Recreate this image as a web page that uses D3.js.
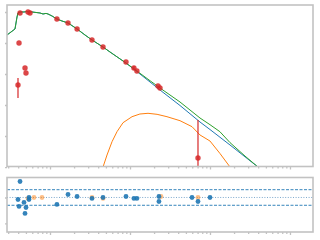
<!DOCTYPE html>
<html>
<head>
<meta charset="utf-8">
<script src="https://cdn.jsdelivr.net/npm/d3@7"></script>
<style>
  html, body { margin: 0; padding: 0; background: #fff; }
  svg { display: block; }
</style>
</head>
<body>
<div id="chart"></div>
<script>
// observed photometry (red points with errors)
var obsWave = [0.0398, 0.0410, 0.0422, 0.0487, 0.0501, 0.0531, 0.0562, 0.122, 0.168, 0.218, 0.335, 0.460, 0.891, 1.12, 1.22, 2.24, 2.37, 7.08];
var obsFlux = [0.00442, 0.100, 0.928, 0.0156, 0.0108, 1.00, 0.928, 0.594, 0.442, 0.283, 0.125, 0.0743, 0.0244, 0.0156, 0.0125, 0.00410, 0.00353, 1.95e-5];
var obsLo   = [0.00168, 0.100, 0.928, 0.0156, 0.0108, 1.00, 0.928, 0.594, 0.442, 0.283, 0.125, 0.0743, 0.0244, 0.0135, 0.0125, 0.00410, 0.00353, 1e-6];
var obsHi   = [0.00743, 0.100, 0.928, 0.0156, 0.0108, 1.00, 0.928, 0.594, 0.442, 0.283, 0.125, 0.0743, 0.0244, 0.0181, 0.0125, 0.00410, 0.00353, 0.000328];

// total model (green)
var totWave = [0.0290, 0.0365, 0.0387, 0.0398, 0.0422, 0.0473, 0.0531, 0.0596, 0.0668, 0.0750, 0.0818, 0.0891, 0.0944, 0.106, 0.122, 0.141, 0.168, 0.218, 0.274, 0.335, 0.460, 0.562, 0.891, 1.22, 1.78, 2.51, 4.22, 7.50, 10.0, 13.3, 17.8, 27.4, 39.8];
var totFlux = [0.181, 0.283, 0.690, 0.928, 1.00, 1.00, 1.04, 1.00, 0.964, 0.928, 0.862, 0.900, 0.862, 0.743, 0.594, 0.513, 0.442, 0.283, 0.181, 0.125, 0.0743, 0.0513, 0.0226, 0.0125, 0.00608, 0.00319, 0.00125, 0.000381, 0.000232, 0.000138, 6.12e-5, 2.26e-5, 1.0e-5];

// stellar model (blue)
var starWave = [0.0290, 0.0365, 0.0387, 0.0398, 0.0422, 0.0473, 0.0531, 0.0596, 0.0668, 0.0750, 0.0818, 0.0891, 0.0944, 0.106, 0.122, 0.141, 0.168, 0.218, 0.274, 0.335, 0.460, 0.562, 0.891, 1.22, 1.78, 2.51, 4.22, 7.50, 10.0, 17.8, 39.8];
var starFlux = [0.181, 0.283, 0.690, 0.928, 1.00, 1.00, 1.04, 1.00, 0.964, 0.928, 0.862, 0.900, 0.862, 0.743, 0.594, 0.513, 0.442, 0.283, 0.181, 0.125, 0.0743, 0.0513, 0.0226, 0.0120, 0.00552, 0.00272, 0.000964, 0.000283, 0.000162, 5.13e-5, 1.0e-5];

// dust model (orange)
var dustWave = [0.434, 0.460, 0.516, 0.596, 0.688, 0.818, 1.06, 1.33, 1.68, 2.18, 2.90, 4.22, 5.96, 7.50, 10.0, 13.3, 17.8];
var dustFlux = [5.52e-6, 1.0e-5, 2.44e-5, 6.55e-5, 0.000138, 0.000269, 0.000420, 0.000513, 0.000540, 0.000501, 0.000420, 0.000312, 0.000200, 0.000108, 6.90e-5, 2.75e-5, 1.0e-5];

// residuals
var resWave = [0.0422, 0.0398, 0.0410, 0.0473, 0.0501, 0.0487, 0.0546, 0.0546, 0.122, 0.168, 0.218, 0.335, 0.460, 0.891, 1.12, 1.22, 2.30, 2.30, 5.96, 7.08, 10.0];
var resVal  = [0.615, -0.077, -0.346, -0.192, -0.385, -0.615, 0, -0.077, -0.269, 0.115, 0.038, -0.038, 0, 0.038, -0.038, -0.038, 0.038, -0.154, 0, -0.154, 0];
var res2Wave = [0.0531, 0.0631, 0.0794, 0.335, 0.460, 2.44, 7.08];
var res2Val  = [-0.038, 0, 0, 0, -0.038, 0.038, 0];

var xMajor = [0.1, 1, 10, 100];
var yMajor = [1e-5, 1e-4, 1e-3, 1e-2, 1e-1, 1];
var rTicks = [0, -1];
var rBand = [0.3, -0.3];

var W = 320, H = 240;
var left = 7, right = 313;
var mTop = 5, mBot = 166.5, rTop = 177.5, rBot = 232;

var svg = d3.select("#chart").append("svg")
    .attr("width", W)
    .attr("height", H);

var x = d3.scaleLog().domain([0.029, 194]).range([left, right]);
var y = d3.scaleLog().domain([1.04e-5, 1.68]).range([mBot, mTop]);
var yr = d3.scaleLinear().domain([-1.33, 0.77]).range([rBot, rTop]);

// minor ticks for log x
var xMinor = [];
[0.01, 0.1, 1, 10, 100].forEach(function(d) {
    for (var k = 2; k <= 9; k++) {
        var v = d * k;
        if (v > 0.029 && v < 194) xMinor.push(v);
    }
});

var grey = "#c2c2c2";

svg.append("defs").append("clipPath").attr("id", "clipMain")
    .append("rect").attr("x", left).attr("y", mTop)
    .attr("width", right - left).attr("height", mBot - mTop);
svg.select("defs").append("clipPath").attr("id", "clipRes")
    .append("rect").attr("x", left).attr("y", rTop)
    .attr("width", right - left).attr("height", rBot - rTop);

function drawTicks(g, axis) {
    g.call(axis);
    g.select(".domain").remove();
    g.selectAll("text").remove();
    g.selectAll("line").attr("stroke", grey).attr("stroke-width", 1.3);
}

function panelAxes(bottomY, topY, yScale, yTickVals) {
    drawTicks(svg.append("g").attr("transform", "translate(0," + bottomY + ")"),
        d3.axisBottom(x).tickValues(xMinor).tickSize(2).tickFormat(""));
    drawTicks(svg.append("g").attr("transform", "translate(0," + bottomY + ")"),
        d3.axisBottom(x).tickValues(xMajor).tickSize(3).tickFormat(""));
    drawTicks(svg.append("g").attr("transform", "translate(" + left + ",0)"),
        d3.axisLeft(yScale).tickValues(yTickVals).tickSize(2).tickFormat(""));
    svg.append("rect")
        .attr("x", left).attr("y", topY)
        .attr("width", right - left).attr("height", bottomY - topY)
        .attr("fill", "none")
        .attr("stroke", grey)
        .attr("stroke-width", 1.6);
}

// ---- main panel
var main = svg.append("g").attr("clip-path", "url(#clipMain)");

var line = d3.line()
    .x(function(d) { return x(d[0]); })
    .y(function(d) { return y(d[1]); });

main.append("path")
    .attr("d", line(d3.zip(dustWave, dustFlux)))
    .attr("fill", "none").attr("stroke", "#ff7f0e").attr("stroke-width", 1);
main.append("path")
    .attr("d", line(d3.zip(starWave, starFlux)))
    .attr("fill", "none").attr("stroke", "#1f77b4").attr("stroke-width", 1);
main.append("path")
    .attr("d", line(d3.zip(totWave, totFlux)))
    .attr("fill", "none").attr("stroke", "#2ca02c").attr("stroke-width", 1);

var obs = obsWave.map(function(w, i) {
    return { w: w, f: obsFlux[i], lo: obsLo[i], hi: obsHi[i] };
});

main.selectAll(".err").data(obs.filter(function(d) { return d.hi > d.lo; }))
    .enter().append("line")
    .attr("x1", function(d) { return x(d.w); })
    .attr("x2", function(d) { return x(d.w); })
    .attr("y1", function(d) { return y(d.lo); })
    .attr("y2", function(d) { return y(d.hi); })
    .attr("stroke", "#d62728").attr("stroke-width", 1.2);

main.selectAll(".obs").data(obs)
    .enter().append("circle")
    .attr("cx", function(d) { return x(d.w); })
    .attr("cy", function(d) { return y(d.f); })
    .attr("r", 2.7)
    .attr("fill", "#d62728")
    .attr("fill-opacity", 0.85);

panelAxes(mBot, mTop, y, yMajor);

// ---- residual panel
var res = svg.append("g").attr("clip-path", "url(#clipRes)");

res.selectAll(".band").data(rBand)
    .enter().append("line")
    .attr("x1", left).attr("x2", right)
    .attr("y1", function(d) { return yr(d); })
    .attr("y2", function(d) { return yr(d); })
    .attr("stroke", "#1f77b4").attr("stroke-width", 0.9)
    .attr("stroke-dasharray", "3,1.5");

res.append("line")
    .attr("x1", left).attr("x2", right)
    .attr("y1", yr(0)).attr("y2", yr(0))
    .attr("stroke", "#4a86b8").attr("stroke-opacity", 0.8).attr("stroke-width", 0.9)
    .attr("stroke-dasharray", "1,1.6");

res.selectAll(".r2").data(d3.zip(res2Wave, res2Val))
    .enter().append("circle")
    .attr("cx", function(d) { return x(d[0]); })
    .attr("cy", function(d) { return yr(d[1]); })
    .attr("r", 2.4)
    .attr("fill", "#ff7f0e").attr("fill-opacity", 0.5);

res.selectAll(".r1").data(d3.zip(resWave, resVal))
    .enter().append("circle")
    .attr("cx", function(d) { return x(d[0]); })
    .attr("cy", function(d) { return yr(d[1]); })
    .attr("r", 2.4)
    .attr("fill", "#1f77b4").attr("fill-opacity", 0.9);

panelAxes(rBot, rTop, yr, rTicks);
</script>
</body>
</html>
